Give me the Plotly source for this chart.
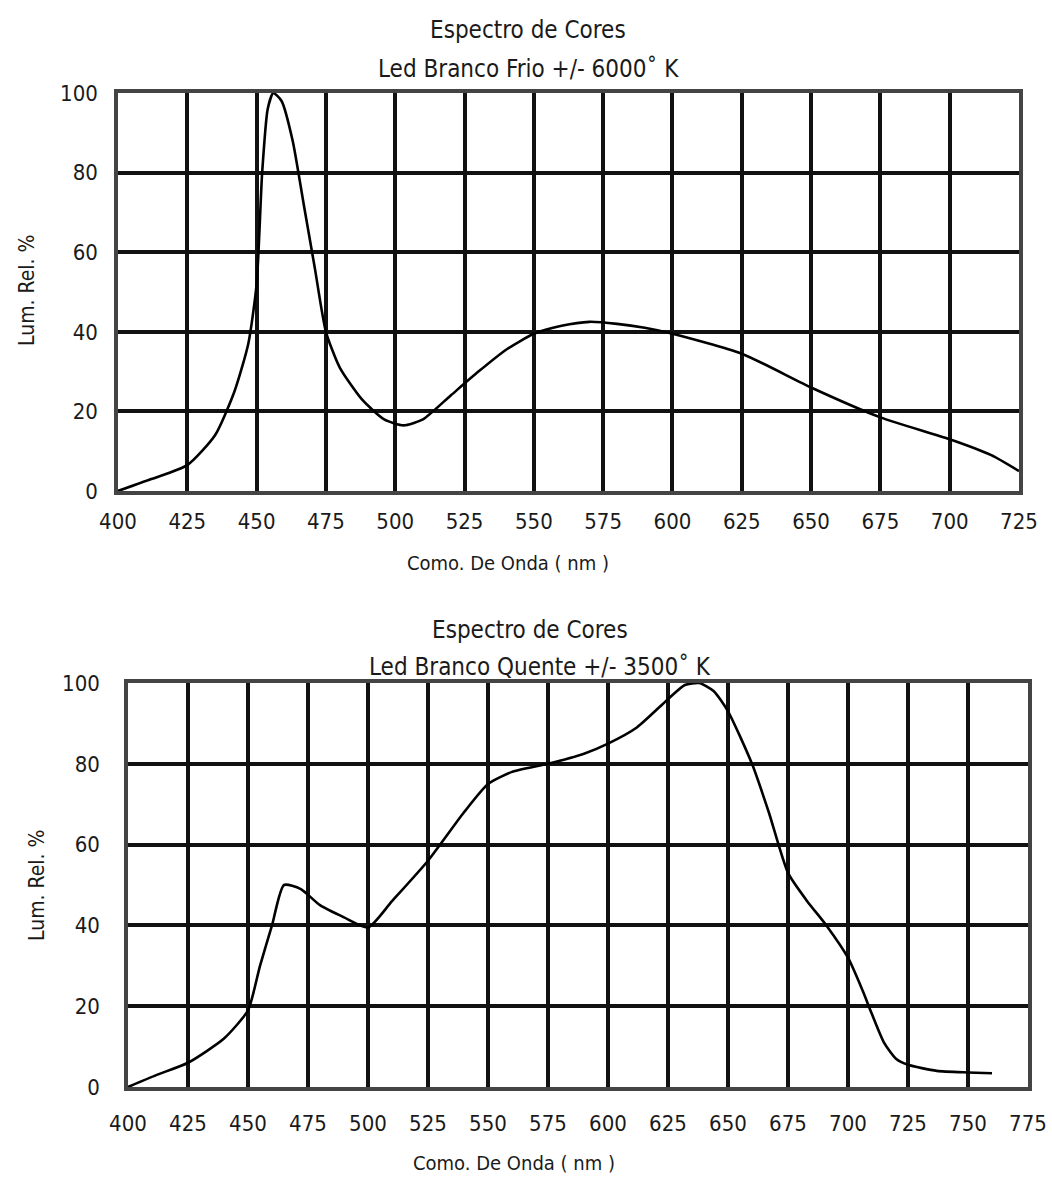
import plotly.graph_objects as go

W, H = 1052, 1187

# Top chart: cold white LED (~6000 K)
cold_nm = [400, 412, 425, 435, 442, 447, 450, 452, 454, 456, 459, 463, 467, 471, 475, 480,
           488, 496, 503, 510, 520, 530, 540, 550, 560, 570, 580, 590, 600, 625, 650, 675,
           700, 715, 725]
cold_lum = [0, 3, 6.5, 14, 25, 37, 52, 80, 96, 100, 98, 88, 72, 56, 40, 31,
            23, 18, 16.5, 18, 24, 30, 35.5, 39.5, 41.5, 42.5, 42, 41, 39.5, 34.5, 26, 18.5,
            13, 9, 5]

# Bottom chart: warm white LED (~3500 K)
warm_nm = [400, 412, 425, 440, 450, 455, 460, 465, 472, 480, 490, 500, 510, 525, 540, 550,
           560, 575, 590, 600, 612, 625, 632, 638, 644, 650, 660, 667, 675, 683, 691, 700,
           706, 710, 715, 720, 725, 737, 750, 760]
warm_lum = [0, 3, 6, 12, 19, 30, 40, 50, 49, 45, 42, 39.5, 46, 56, 68, 75,
            78, 80, 82.5, 85, 89, 96, 99.5, 100, 98, 93, 80, 68, 53, 46, 40, 32,
            24, 18, 11, 7, 5.5, 4, 3.6, 3.4]

x_ticks_top = list(range(400, 726, 25))
x_ticks_bot = list(range(400, 776, 25))
y_ticks = [0, 20, 40, 60, 80, 100]

title_main = "Espectro de Cores"
sub_top = "Led Branco Frio +/- 6000˚ K"
sub_bot = "Led Branco Quente +/- 3500˚ K"
x_title = "Como. De Onda ( nm )"
y_title = "Lum. Rel. %"

FONT = "DejaVu Sans Condensed, Liberation Sans Narrow, Arial Narrow, sans-serif"
TXT = "#1a1a1a"

fig = go.Figure()
fig.add_trace(go.Scatter(x=cold_nm, y=cold_lum, mode="lines", line=dict(color="black", width=2.6, shape="spline", smoothing=0.6),
                         xaxis="x", yaxis="y", showlegend=False, hoverinfo="skip"))
fig.add_trace(go.Scatter(x=warm_nm, y=warm_lum, mode="lines", line=dict(color="black", width=2.6, shape="spline", smoothing=0.6),
                         xaxis="x2", yaxis="y2", showlegend=False, hoverinfo="skip"))

def px_x(p):
    return p / W

def px_y(p):
    return 1 - p / H

axis_common = dict(showgrid=True, gridcolor="#111", gridwidth=3.5, zeroline=False,
                   showline=True, mirror=True, linecolor="#444", linewidth=3.5,
                   ticks="", tickfont=dict(family=FONT, size=22, color=TXT), fixedrange=True,
                   automargin=False)

fig.update_layout(
    width=W, height=H, margin=dict(l=0, r=0, t=0, b=0, pad=0),
    paper_bgcolor="white", plot_bgcolor="white",
    xaxis=dict(domain=[px_x(118), px_x(1019)], range=[400, 725], tickvals=x_ticks_top,
               anchor="y", ticklabelstandoff=8, **axis_common),
    yaxis=dict(domain=[px_y(491), px_y(93)], range=[0, 100], tickvals=y_ticks,
               anchor="x", ticklabelstandoff=12, **axis_common),
    xaxis2=dict(domain=[px_x(128), px_x(1028)], range=[400, 775], tickvals=x_ticks_bot,
                anchor="y2", ticklabelstandoff=14, **axis_common),
    yaxis2=dict(domain=[px_y(1087), px_y(683)], range=[0, 100], tickvals=y_ticks,
                anchor="x2", ticklabelstandoff=20, **axis_common),
)

def ann(text, x, y, size=24, angle=0):
    fig.add_annotation(text=text, x=px_x(x), y=px_y(y), xref="paper", yref="paper",
                       showarrow=False, xanchor="center", yanchor="middle", textangle=angle,
                       font=dict(family=FONT, size=size, color=TXT))

ann(title_main, 528, 30)
ann(sub_top, 528, 69)
ann(x_title, 508, 563, size=20)
ann(y_title, 27, 290, size=21, angle=-90)

ann(title_main, 530, 630)
ann(sub_bot, 540, 667)
ann(x_title, 514, 1163, size=20)
ann(y_title, 37, 885, size=21, angle=-90)

fig.write_html("out.html")
